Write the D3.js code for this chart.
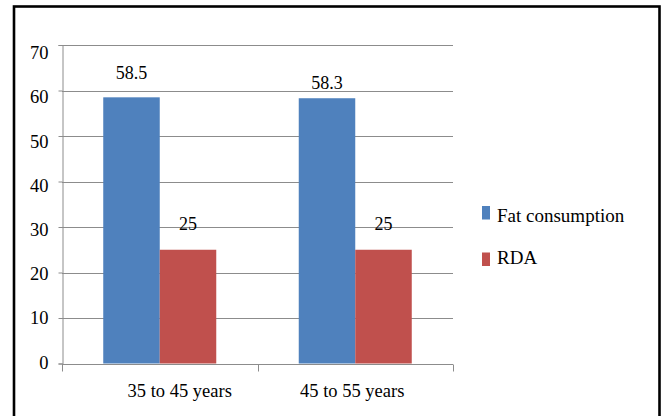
<!DOCTYPE html>
<html>
<head>
<meta charset="utf-8">
<script src="https://cdn.jsdelivr.net/npm/d3@7"></script>
</head>
<body style="margin:0;padding:0;background:#fff">
<script>
// Chart data
const categories = ["35 to 45 years", "45 to 55 years"];
const seriesNames = ["Fat consumption", "RDA"];
const fatConsumption = [58.5, 58.3];
const rda = [25, 25];
const yTicks = [0, 10, 20, 30, 40, 50, 60, 70];

const seriesValues = [fatConsumption, rda];
const colors = ["#4F81BD", "#C0504D"];
const FONT = '"Liberation Serif"';
const FS = "18.5px";

const W = 661, H = 416;
const svg = d3.select("body").append("svg")
  .attr("width", W).attr("height", H)
  .style("display", "block");

// Outer frame
svg.append("rect")
  .attr("x", 14).attr("y", 6.5)
  .attr("width", 645.5).attr("height", 420)
  .attr("fill", "none").attr("stroke", "#000").attr("stroke-width", 2.6);

const plot = { left: 62, right: 453, top: 45, bottom: 363.5 };

const y = d3.scaleLinear().domain([0, 70]).range([plot.bottom, plot.top]);
// tick labels sit on a slightly tighter spacing than the gridlines
const yLabel = d3.scaleLinear().domain([0, 70]).range([361.7, 52.5]);
const x0 = d3.scaleBand().domain(categories).range([plot.left, plot.right]).paddingInner(0).paddingOuter(0);
const x1 = d3.scaleBand().domain(seriesNames).range([0, x0.bandwidth()]).paddingInner(0).paddingOuter(0.73);

const g = svg.append("g");

// Horizontal gridlines
g.append("g").selectAll("line")
  .data(yTicks.filter(d => d > 0))
  .join("line")
  .attr("x1", plot.left).attr("x2", plot.right)
  .attr("y1", d => Math.round(y(d)) + 0.5).attr("y2", d => Math.round(y(d)) + 0.5)
  .attr("stroke", "#8c8c8c").attr("stroke-width", 1);

// Y axis
const yAxis = g.append("g")
  .attr("transform", `translate(${plot.left + 0.5},0)`)
  .call(d3.axisLeft(y).tickValues(yTicks).tickSize(4).tickPadding(10).tickFormat(d3.format("d")));
yAxis.select(".domain").attr("stroke", "#8c8c8c");
yAxis.selectAll(".tick line").attr("stroke", "#8c8c8c");
yAxis.selectAll(".tick text")
  .attr("y", d => yLabel(d) - y(d))
  .attr("dy", "0.34em")
  .style("font-family", FONT)
  .style("font-size", FS)
  .attr("fill", "#000");

// Bars
const groups = g.append("g").selectAll("g")
  .data(categories)
  .join("g")
  .attr("transform", d => `translate(${x0(d)},0)`);

groups.selectAll("rect")
  .data((c, i) => seriesNames.map((s, k) => ({ s, k, v: seriesValues[k][i], i })))
  .join("rect")
  .attr("x", d => x1(d.s))
  .attr("width", x1.bandwidth())
  .attr("y", d => y(d.v))
  .attr("height", d => y(0) - y(d.v))
  .attr("fill", d => colors[d.k]);

// Value labels (distance above each bar top)
const labelLift = [[18, 9], [20, 20]];
groups.selectAll("text.val")
  .data((c, i) => seriesNames.map((s, k) => ({ s, k, v: seriesValues[k][i], i })))
  .join("text")
  .attr("class", "val")
  .attr("x", d => x1(d.s) + x1.bandwidth() / 2)
  .attr("y", d => y(d.v) - labelLift[d.k][d.i])
  .attr("text-anchor", "middle")
  .style("font-family", FONT)
  .style("font-size", "18px")
  .attr("fill", "#000")
  .text(d => d.v);

// X axis
const labelShift = [20, -3];
const xAxis = g.append("g")
  .attr("transform", `translate(0,${Math.round(plot.bottom) + 0.5})`)
  .call(d3.axisBottom(x0).tickSize(0).tickPadding(0));
xAxis.select(".domain").attr("stroke", "#8c8c8c").attr("d", `M${plot.left},0H${plot.right}`);
xAxis.selectAll(".tick text")
  .attr("x", (d, i) => labelShift[i])
  .attr("y", 32)
  .attr("dy", 0)
  .style("font-family", FONT)
  .style("font-size", FS)
  .attr("fill", "#000");
// Category boundary ticks
xAxis.append("g").selectAll("line")
  .data(d3.range(categories.length + 1))
  .join("line")
  .attr("x1", i => Math.round(plot.left + i * x0.bandwidth()) + 0.5)
  .attr("x2", i => Math.round(plot.left + i * x0.bandwidth()) + 0.5)
  .attr("y1", 0).attr("y2", 7)
  .attr("stroke", "#8c8c8c");

// Legend
const legend = svg.append("g").attr("transform", "translate(482,0)");
const legendY = [206, 252.5];
const legendText = [222, 264];
seriesNames.forEach((name, k) => {
  legend.append("rect")
    .attr("x", 0).attr("y", legendY[k])
    .attr("width", 8).attr("height", 13.5)
    .attr("fill", colors[k]);
  legend.append("text")
    .attr("x", 15).attr("y", legendText[k])
    .style("font-family", FONT)
    .style("font-size", "19px")
    .attr("fill", "#000")
    .text(name);
});
</script>
</body>
</html>
